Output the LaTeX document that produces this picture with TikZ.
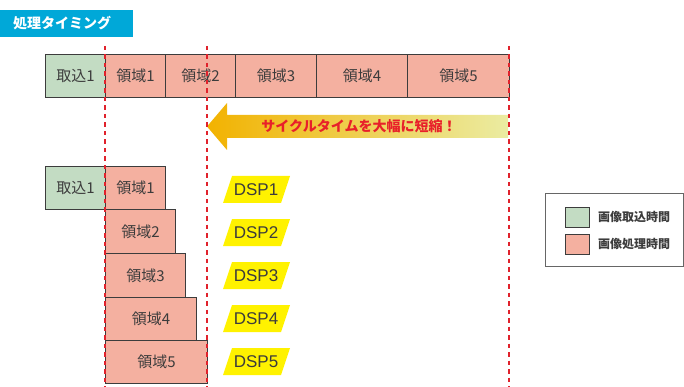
\documentclass[tikz,border=0pt]{standalone}
\usepackage{fontspec}
\setmainfont{Noto Sans CJK JP}
\newfontfamily\dspfont{Liberation Sans}
\definecolor{titlecyan}{HTML}{00A8D8}
\definecolor{capgreen}{HTML}{C3DCC3}
\definecolor{procpink}{HTML}{F4B0A0}
\definecolor{txtgray}{HTML}{3C3C3C}
\definecolor{redline}{HTML}{E0222C}
\definecolor{dspyellow}{HTML}{FFF200}
\definecolor{arrowL}{HTML}{F2B200}
\definecolor{arrowM}{HTML}{F8D21C}
\definecolor{arrowR}{HTML}{EBECA2}
\definecolor{arrowtext}{HTML}{E8202A}
\definecolor{leggray}{HTML}{666666}
\begin{document}
\begin{tikzpicture}[x=1pt,y=-1pt,
  cell/.style={draw=txtgray, line width=0.9pt, anchor=north west, inner sep=0pt,
    text=txtgray, font=\fontsize{15}{15}\selectfont},
  capbox/.style={cell, fill=capgreen},
  procbox/.style={cell, fill=procpink},
  redmarker/.style={draw=redline, line width=2.9pt, dash pattern=on 4.5pt off 4pt},
  dsptext/.style={text=txtgray, font=\dspfont\fontsize{17}{17}\selectfont, inner sep=0pt},
  legsq/.style={draw=txtgray, line width=0.8pt, anchor=north west, inner sep=0pt,
    minimum width=24pt, minimum height=20pt},
  legtext/.style={anchor=west, inner sep=0pt, text=txtgray, font=\bfseries\fontsize{12}{12}\selectfont}
]
\useasboundingbox (0,0) rectangle (684,387);

% title
\fill[titlecyan] (0,10) rectangle (133,37);
\node[anchor=west, inner sep=0pt, text=white, font=\bfseries\fontsize{14}{14}\selectfont] (title) at (13,23.5) {処理タイミング};

% top row
\node[capbox, minimum width=60pt, minimum height=43pt] (t0) at (45,54) {取込1};
\node[procbox, minimum width=60pt, minimum height=43pt] (t1) at (105,54) {領域1};
\node[procbox, minimum width=70pt, minimum height=43pt] (t2) at (165,54) {領域2};
\node[procbox, minimum width=81pt, minimum height=43pt] (t3) at (235,54) {領域3};
\node[procbox, minimum width=91pt, minimum height=43pt] (t4) at (316,54) {領域4};
\node[procbox, minimum width=102pt, minimum height=43pt] (t5) at (407,54) {領域5};

% arrow
\shade[left color=arrowL, middle color=arrowM, right color=arrowR]
  (207,126.5) -- (227,103) -- (227,115) -- (508,115) -- (508,138) -- (227,138) -- (227,150) -- cycle;
\node[text=arrowtext, inner sep=0pt, font=\bfseries\fontsize{14}{14}\selectfont] (slogan) at (359,126.5) {サイクルタイムを大幅に短縮！};

% bottom staircase
\node[capbox, minimum width=60pt, minimum height=43pt] (b0) at (45,166) {取込1};
\node[procbox, minimum width=60pt, minimum height=43pt] (b1) at (105,166) {領域1};
\node[procbox, minimum width=70pt, minimum height=44pt] (b2) at (105,209) {領域2};
\node[procbox, minimum width=80pt, minimum height=44pt] (b3) at (105,253) {領域3};
\node[procbox, minimum width=91pt, minimum height=43pt] (b4) at (105,297) {領域4};
\node[procbox, minimum width=102pt, minimum height=43pt] (b5) at (105,340) {領域5};

% DSP labels
\foreach \i/\yc in {1/189.5, 2/232.5, 3/275.5, 4/318.5, 5/361.5}{
  \fill[dspyellow] (232,\yc-13.5) -- (290,\yc-13.5) -- (281,\yc+13.5) -- (223,\yc+13.5) -- cycle;
  \node[dsptext] (dsp\i) at (256,\yc) {DSP\i};
}

% legend
\draw[leggray, line width=0.9pt] (545,193) rectangle (683,266);
\node[legsq, fill=capgreen] (lg1) at (565,207) {};
\node[legsq, fill=procpink] (lg2) at (565,234) {};
\node[legtext] (lt1) at (598,217) {画像取込時間};
\node[legtext] (lt2) at (598,244) {画像処理時間};

% red dashed markers
\coordinate (m1a) at (105,46); \coordinate (m1b) at (105,387);
\coordinate (m2a) at (207,46); \coordinate (m2b) at (207,387);
\coordinate (m3a) at (509,46); \coordinate (m3b) at (509,387);
\draw[redmarker] (m1a) -- (m1b);
\draw[redmarker] (m2a) -- (m2b);
\draw[redmarker] (m3a) -- (m3b);
\end{tikzpicture}
\end{document}
